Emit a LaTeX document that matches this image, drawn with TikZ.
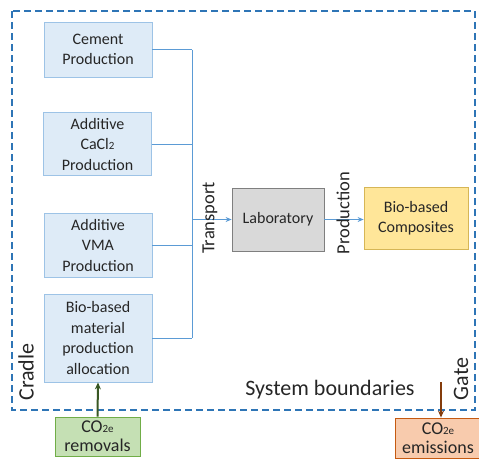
\documentclass[tikz,border=0pt]{standalone}
\usepackage{fontspec}
\setmainfont{Carlito}
\usetikzlibrary{arrows.meta}
\definecolor{bfill}{HTML}{DEEBF7}
\definecolor{bdraw}{HTML}{9DC3E6}
\definecolor{conn}{HTML}{5B9BD5}
\definecolor{bound}{HTML}{2E75B6}
\definecolor{labfill}{HTML}{D9D9D9}
\definecolor{labdraw}{HTML}{7F7F7F}
\definecolor{yfill}{HTML}{FFE699}
\definecolor{ydraw}{HTML}{D6B656}
\definecolor{gfill}{HTML}{C5E0B4}
\definecolor{gdraw}{HTML}{70AD47}
\definecolor{garrow}{HTML}{385723}
\definecolor{ofill}{HTML}{F8CBAD}
\definecolor{odraw}{HTML}{C55A11}
\definecolor{oarrow}{HTML}{843C0C}
\definecolor{txt}{HTML}{262626}
\tikzset{
  box/.style={draw, line width=0.8pt, align=center, inner sep=1pt, text=txt,
    font=\fontsize{16}{20.5}\selectfont},
  bluebox/.style={box, fill=bfill, draw=bdraw, minimum width=108pt},
  link/.style={conn, line width=0.8pt},
  linkarrow/.style={link, -{Stealth[length=6pt,width=5pt]}},
  sidelabel/.style={text=txt, font=\fontsize{18.5}{22}\selectfont, inner sep=0pt},
  biglabel/.style={text=txt, font=\fontsize{22}{26}\selectfont, inner sep=0pt},
}
\newcommand{\smallsub}[1]{{\fontsize{11}{12}\selectfont #1}}
\begin{document}
\begin{tikzpicture}[x=1pt,y=-1pt]
\useasboundingbox (0,0) rectangle (479,459);
% blue boxes
\node[bluebox, minimum height=55pt] (cement) at (98,49.5) {Cement\\Production};
\node[bluebox, minimum height=63pt] (cacl) at (97.5,144) {Additive\\CaCl\smallsub{2}\\Production};
\node[bluebox, minimum height=64pt] (vma) at (98,245) {Additive\\VMA\\Production};
\node[bluebox, minimum height=88pt] (bio) at (98,338) {Bio-based\\material\\production\\allocation};
% laboratory and composites
\node[box, fill=labfill, draw=labdraw, minimum width=92pt, minimum height=63pt] (lab) at (278,219.5) {Laboratory};
\node[box, fill=yfill, draw=ydraw, minimum width=104pt, minimum height=62pt] (comp) at (416,218) {Bio-based\\Composites};
% trunk
\coordinate (ttop) at (192,49.5);
\coordinate (tbot) at (192,338);
\coordinate (tj) at (192,219.5);
\draw[link] (cement.east) -- (cement.east -| ttop);
\draw[link] (cacl.east) -- (cacl.east -| ttop);
\draw[link] (vma.east) -- (vma.east -| ttop);
\draw[link] (bio.east) -- (bio.east -| ttop);
\draw[link] (ttop) -- (tbot);
\draw[linkarrow] (tj) -- (lab.west);
\draw[linkarrow] (lab.east) -- (lab.east -| comp.west);
% rotated labels
\node[sidelabel, rotate=90] (transport) at (210,218) {Transport};
\node[sidelabel, rotate=90] (production) at (343,213) {Production};
% boundary
\draw[bound, line width=1.8pt, dash pattern=on 7pt off 4pt] (12,11) rectangle (475,410);
\node[biglabel, rotate=90] (cradle) at (26,372) {Cradle};
\node[biglabel, rotate=90] (gate) at (461,379) {Gate};
\node[biglabel] (sysb) at (330,390) {System boundaries};
% CO2e boxes
\node[box, fill=gfill, draw=gdraw, minimum width=85pt, minimum height=39pt,
  font=\fontsize{18}{19}\selectfont] (rem) at (97.5,436.5) {CO\smallsub{2e}\\removals};
\node[box, fill=ofill, draw=odraw, minimum width=86pt, minimum height=40pt,
  font=\fontsize{18}{19}\selectfont] (emi) at (438,438) {CO\smallsub{2e}\\emissions};
\coordinate (emitop) at (441,382);
\draw[garrow, line width=2pt, -{Stealth[length=7pt,width=6pt]}] (rem.north) -- (bio.south);
\draw[oarrow, line width=2pt, -{Stealth[length=7pt,width=6pt]}] (emitop) -- (emitop |- emi.north);
\end{tikzpicture}
\end{document}
